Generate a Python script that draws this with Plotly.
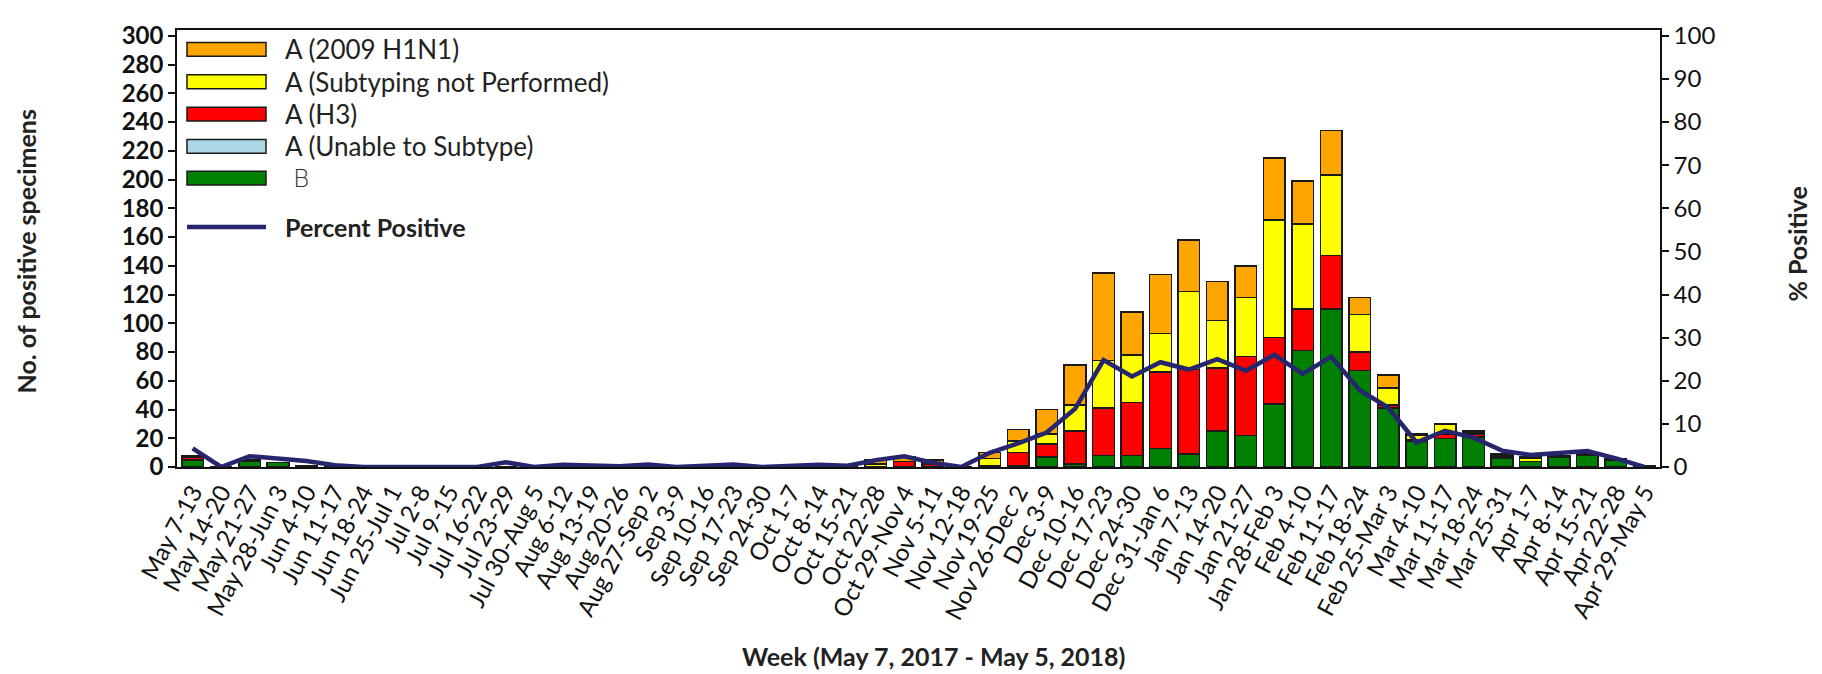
import plotly.graph_objects as go

weeks = ["May 7-13", "May 14-20", "May 21-27", "May 28-Jun 3", "Jun 4-10", "Jun 11-17",
         "Jun 18-24", "Jun 25-Jul 1", "Jul 2-8", "Jul 9-15", "Jul 16-22", "Jul 23-29",
         "Jul 30-Aug 5", "Aug 6-12", "Aug 13-19", "Aug 20-26", "Aug 27-Sep 2", "Sep 3-9",
         "Sep 10-16", "Sep 17-23", "Sep 24-30", "Oct 1-7", "Oct 8-14", "Oct 15-21",
         "Oct 22-28", "Oct 29-Nov 4", "Nov 5-11", "Nov 12-18", "Nov 19-25", "Nov 26-Dec 2",
         "Dec 3-9", "Dec 10-16", "Dec 17-23", "Dec 24-30", "Dec 31-Jan 6", "Jan 7-13",
         "Jan 14-20", "Jan 21-27", "Jan 28-Feb 3", "Feb 4-10", "Feb 11-17", "Feb 18-24",
         "Feb 25-Mar 3", "Mar 4-10", "Mar 11-17", "Mar 18-24", "Mar 25-31", "Apr 1-7",
         "Apr 8-14", "Apr 15-21", "Apr 22-28", "Apr 29-May 5"]

b_vals = [5, 0, 4, 3, 1, 0, 0, 0, 0, 0, 0, 0, 0, 0, 0, 0, 0, 0, 0, 0, 0, 0, 0, 0,
          0, 0, 0, 0, 0, 1, 7, 2, 8, 8, 13, 9, 25, 22, 44, 81, 110, 67, 41, 18, 20, 21,
          6, 4, 7, 8, 5, 1]
unable_vals = [0] * 52
h3_vals = [2, 0, 0, 0, 0, 0, 0, 0, 0, 0, 0, 0, 0, 0, 0, 0, 0, 0, 0, 0, 0, 0, 0, 0,
           0, 4, 2, 0, 1, 9, 9, 23, 33, 37, 53, 59, 44, 55, 46, 29, 37, 13, 2, 1, 3, 2,
           1, 0, 0, 1, 0, 0]
notsub_vals = [0, 0, 0, 0, 0, 0, 0, 0, 0, 0, 0, 0, 0, 0, 0, 0, 0, 0, 0, 0, 0, 0, 0, 0,
               2, 0, 1, 0, 5, 8, 7, 18, 33, 33, 27, 54, 33, 41, 82, 59, 56, 26, 12, 3, 7, 1,
               1, 2, 1, 0, 0, 0]
h1n1_vals = [1, 0, 1, 0, 0, 0, 0, 0, 0, 0, 0, 0, 0, 0, 0, 0, 0, 0, 0, 0, 0, 0, 0, 0,
             3, 3, 2, 0, 4, 8, 17, 28, 61, 30, 41, 36, 27, 22, 43, 30, 31, 12, 9, 1, 0, 1,
             1, 1, 0, 0, 1, 0]
pct_pos = [4.3, 0, 2.5, 2.0, 1.4, 0.4, 0, 0, 0, 0, 0, 1.1, 0, 0.5, 0.3, 0.2, 0.6, 0,
           0.3, 0.6, 0, 0.3, 0.5, 0.3, 1.6, 2.5, 1.0, 0, 3.3, 5.5, 8.0, 13.5, 24.8, 21.0,
           24.3, 22.6, 25.0, 22.3, 26.0, 21.6, 25.6, 17.8, 13.8, 5.7, 8.4, 6.8, 3.8, 2.8,
           3.3, 3.7, 2.0, 0]

series = [
    ("B", b_vals, "#008000"),
    ("A (Unable to Subtype)", unable_vals, "#ADD8E6"),
    ("A (H3)", h3_vals, "#FF0000"),
    ("A (Subtyping not Performed)", notsub_vals, "#FFFF00"),
    ("A (2009 H1N1)", h1n1_vals, "#FFA500"),
]
legend_order = ["A (2009 H1N1)", "A (Subtyping not Performed)", "A (H3)",
                "A (Unable to Subtype)", "B"]
legend_rows = [290.5, 268, 245.5, 223, 201]
line_row = 167
line_name = "Percent Positive"
line_color = "#26266f"

W, H = 1822, 674
L, R, T, B = 169, 1652, 15, 459
PW = R - L
Y_TOP = 304

def px_x(x):
    return (x - L) / PW

def px_y(y):
    return (B - y) / (B - T)

FONT = "Lato"
fig = go.Figure()
for name, vals, color in series:
    fig.add_trace(go.Bar(x=weeks, y=vals, name=name, marker_color=color,
                         marker_line_color="#1a1a1a", marker_line_width=1.5,
                         showlegend=False))
fig.add_trace(go.Scatter(x=weeks, y=pct_pos, name=line_name, mode="lines",
                         line=dict(color=line_color, width=4.5), yaxis="y2",
                         showlegend=False))

colors = {n: c for n, _, c in series}
shapes = []
annotations = []
half_h = 4.8
for name, yv in zip(legend_order, legend_rows):
    shapes.append(dict(type="rect", xref="paper", yref="y",
                       x0=px_x(179), x1=px_x(258), y0=yv - half_h, y1=yv + half_h,
                       fillcolor=colors[name], line=dict(color="#1a1a1a", width=1.5)))
    fnt = dict(family=FONT, size=26, color="#222")
    xt = 275
    if name == "B":
        fnt = dict(family="DejaVu Sans", size=25, color="#333", weight=200)
        xt = 283
    annotations.append(dict(text=name, xref="paper", yref="y", x=px_x(xt),
                            y=yv, xanchor="left", yanchor="middle",
                            showarrow=False, font=fnt))
shapes.append(dict(type="line", xref="paper", yref="y", x0=px_x(179), x1=px_x(258),
                   y0=line_row, y1=line_row, line=dict(color=line_color, width=4.5)))
annotations.append(dict(text=line_name, xref="paper", yref="y", x=px_x(275),
                        y=line_row, xanchor="left", yanchor="middle", showarrow=False,
                        font=dict(family=FONT, size=25, color="#222", weight="bold")))

annotations.append(dict(text="No. of positive specimens", xref="paper", yref="paper",
                        x=px_x(18), y=px_y(240), textangle=-90, showarrow=False,
                        xanchor="center", yanchor="middle",
                        font=dict(family=FONT, size=25, color="#222", weight="bold")))
annotations.append(dict(text="% Positive", xref="paper", yref="paper",
                        x=px_x(1789), y=px_y(232), textangle=-90, showarrow=False,
                        xanchor="center", yanchor="middle",
                        font=dict(family=FONT, size=25, color="#222", weight="bold")))
annotations.append(dict(text="Week (May 7, 2017 - May 5, 2018)", xref="paper", yref="paper",
                        x=px_x(925), y=px_y(651), showarrow=False,
                        xanchor="center", yanchor="middle",
                        font=dict(family=FONT, size=25, color="#222", weight="bold")))

fig.update_layout(
    width=W, height=H,
    margin=dict(l=L, r=W - R, t=T, b=H - B, pad=0),
    barmode="stack", bargap=0.24,
    plot_bgcolor="white", paper_bgcolor="white",
    showlegend=False,
    shapes=shapes, annotations=annotations,
    xaxis=dict(type="category", range=[-0.55, 51.55], tickangle=-62,
               tickmode="array", tickvals=weeks, ticktext=weeks,
               tickfont=dict(family=FONT, size=24, color="#111"),
               showline=True, linecolor="#111", linewidth=1.5, mirror=True,
               ticks="", showgrid=False, zeroline=False),
    yaxis=dict(range=[0, Y_TOP], tickvals=list(range(0, 301, 20)),
               tickfont=dict(family=FONT, size=24, color="#111", weight="bold"),
               showline=True, linecolor="#111", linewidth=1.5,
               ticks="outside", ticklen=7, tickcolor="#111", tickwidth=1.5,
               showgrid=False, zeroline=False),
    yaxis2=dict(range=[0, Y_TOP / 3], tickvals=list(range(0, 101, 10)), overlaying="y",
                side="right", anchor="x",
                tickfont=dict(family=FONT, size=24, color="#111"),
                showline=True, linecolor="#111", linewidth=1.5,
                ticks="outside", ticklen=7, tickcolor="#111", tickwidth=1.5,
                showgrid=False, zeroline=False),
)

fig.write_html("out.html")
